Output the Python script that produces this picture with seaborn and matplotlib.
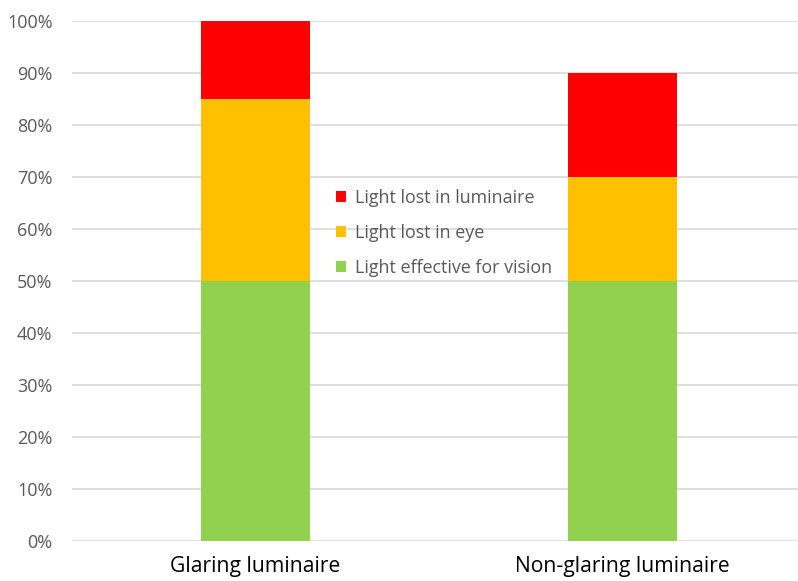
import matplotlib
matplotlib.use("Agg")
import matplotlib.pyplot as plt
import seaborn as sns
import pandas as pd
from matplotlib.patches import Patch

categories = ["Glaring luminaire", "Non-glaring luminaire"]
effective = [50, 50]
lost_eye = [35, 20]
lost_luminaire = [15, 20]

series_names = ["Light lost in luminaire", "Light lost in eye", "Light effective for vision"]
colors = {"Light lost in luminaire": "#FF0000",
          "Light lost in eye": "#FFC000",
          "Light effective for vision": "#92D050"}

sns.set_theme(style="white")
plt.rcParams["font.family"] = ["Open Sans", "DejaVu Sans"]

# cumulative tops, drawn back to front so each segment shows its own share
df = pd.DataFrame({
    "category": categories,
    "effective": effective,
    "eye_top": [e + y for e, y in zip(effective, lost_eye)],
    "lum_top": [e + y + l for e, y, l in zip(effective, lost_eye, lost_luminaire)],
})

fig = plt.figure(figsize=(7.98, 5.81), dpi=100)
ax = fig.add_axes([72 / 798, 1 - 541 / 581, 734 / 798, 520 / 581])

bw = 0.297
sns.barplot(data=df, x="category", y="lum_top", color=colors["Light lost in luminaire"],
            width=bw, saturation=1, ax=ax, zorder=2, linewidth=0)
sns.barplot(data=df, x="category", y="eye_top", color=colors["Light lost in eye"],
            width=bw, saturation=1, ax=ax, zorder=3, linewidth=0)
sns.barplot(data=df, x="category", y="effective", color=colors["Light effective for vision"],
            width=bw, saturation=1, ax=ax, zorder=4, linewidth=0)

ax.set_xlim(-0.5, 1.5)
ax.set_ylim(0, 100)
ax.set_yticks(range(0, 101, 10))
ax.set_yticklabels([f"{v}%" for v in range(0, 101, 10)], color="#595959", fontsize=13)
ax.set_xticks([0, 1])
ax.set_xticklabels(categories, fontsize=15.2, color="#000000")
ax.tick_params(axis="both", length=0)
ax.tick_params(axis="y", pad=14)
ax.tick_params(axis="x", pad=11)
ax.set_xlabel("")
ax.set_ylabel("")
ax.yaxis.grid(True, color="#D9D9D9", linewidth=1.2, zorder=0)
ax.set_axisbelow(True)
for s in ax.spines.values():
    s.set_visible(False)

handles = [Patch(facecolor=colors[n], edgecolor="none") for n in series_names]
leg = fig.legend(handles, series_names, loc="upper left",
                 bbox_to_anchor=(320 / 798, 1 - 173 / 581),
                 frameon=False, fontsize=12.9, handlelength=0.55, handleheight=0.55,
                 handletextpad=0.5, labelspacing=0.95, labelcolor="#595959")

fig.savefig("out.png", dpi=100)
